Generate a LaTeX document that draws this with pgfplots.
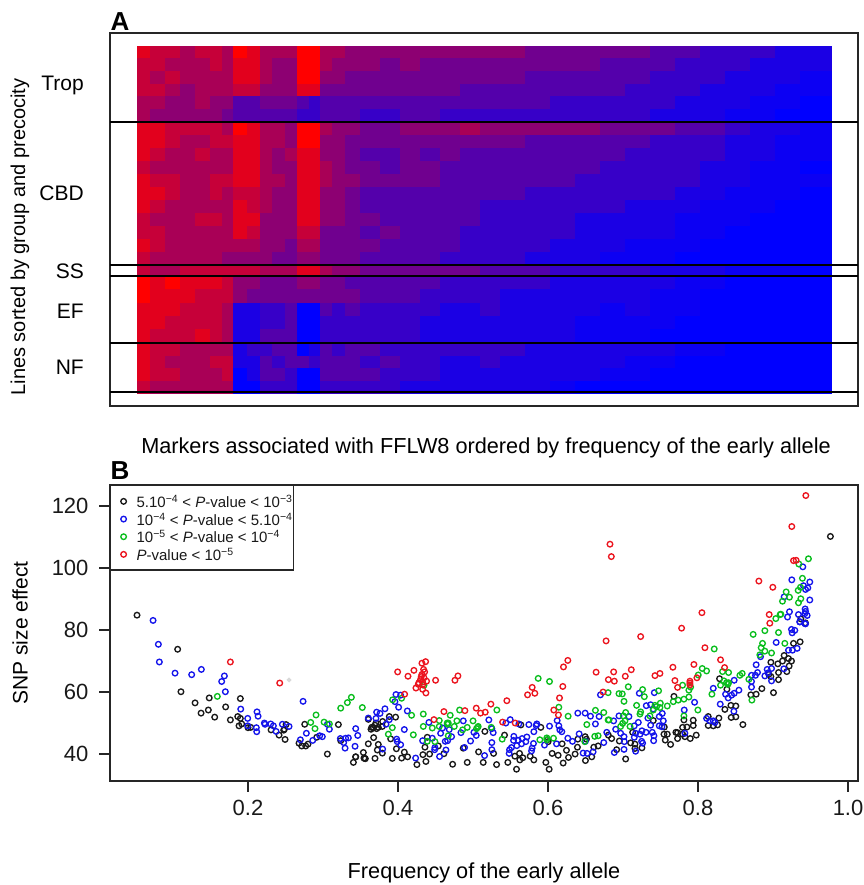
\documentclass[border=0pt]{standalone}
\usepackage{pgfplots}
\usepackage{pgfplotstable}
\usepackage{fontspec}
\setmainfont{Liberation Sans}
\pgfplotsset{compat=1.18}
\definecolor{rgreen}{RGB}{10,190,30}
\definecolor{rblue}{RGB}{20,20,235}
\definecolor{rred}{RGB}{235,20,30}
\definecolor{rblack}{RGB}{25,25,25}
\pgfplotstableread{
x T1 T2 T3 T4 T5 T6 C1 C2 C3 C4 C5 C6 C7 C8 C9 C10 C11 S E1 E2 E3 E4 E5 N1 N2 N3 N4
137 1 2 2 2 3 3 1 1 1 2 1 1 1 2 2 1 2 2 0 0 1 1 1 1 1 1 2
150 2 2 3 2 3 4 1 1 2 3 2 1 2 3 2 2 3 3 1 1 1 1 2 2 2 2 3
165 2 3 2 3 4 4 2 2 3 3 2 2 3 3 3 3 3 3 0 1 1 2 2 2 3 2 3
180 3 3 3 4 4 4 2 3 3 3 3 3 3 3 3 3 3 2 1 1 2 2 2 3 3 3 3
195 2 3 3 3 3 4 2 3 2 3 3 3 3 2 3 3 3 2 1 2 2 2 1 3 3 3 3
210 2 2 3 3 4 4 2 2 3 3 2 2 3 2 3 3 3 2 1 2 2 2 2 3 2 3 3
222 3 3 3 3 4 5 3 2 3 3 2 3 3 3 3 3 4 2 2 2 3 3 3 3 2 2 3
233 0 1 1 2 6 6 0 1 1 1 1 2 1 1 1 3 4 2 4 4 8 8 8 8 8 9 9
247 1 1 1 2 6 6 1 1 1 1 1 2 2 1 2 3 4 2 4 5 8 8 8 7 8 8 9
260 3 3 3 4 5 6 3 3 3 3 3 3 3 4 4 4 4 3 5 5 7 7 6 7 6 6 7
272 3 4 4 4 5 6 3 3 4 4 3 4 4 4 4 4 5 3 5 5 7 7 6 6 7 6 7
285 3 4 4 4 5 6 4 4 3 4 4 4 4 4 4 5 5 3 5 5 6 6 6 6 6 7 7
297 0 0 0 1 6 7 0 0 1 1 1 1 1 1 2 3 4 1 4 5 9 9 9 9 6 9 9
309 0 0 0 1 7 7 0 0 1 1 1 1 1 1 2 3 4 1 4 5 9 9 9 8 7 9 9
320 3 3 4 5 6 6 3 4 4 3 3 4 4 4 5 5 5 3 5 5 6 7 7 6 6 6 7
332 3 4 4 5 6 6 4 4 4 4 4 4 4 4 5 5 5 4 5 5 7 7 7 7 6 6 7
345 4 4 5 5 6 6 4 5 5 5 4 5 5 5 5 5 5 4 6 5 6 7 7 6 6 6 7
360 4 4 5 5 6 7 5 5 6 5 5 6 6 5 6 5 6 5 6 6 7 7 7 6 7 6 7
380 4 5 5 5 6 7 5 5 6 6 5 6 6 6 5 6 6 5 6 6 7 7 7 7 6 7 7
400 4 4 5 5 6 6 4 5 5 5 5 6 6 6 6 6 6 5 6 6 7 7 7 7 7 7 8
420 4 5 5 5 6 6 4 5 6 5 5 6 6 6 6 6 6 5 6 7 7 8 8 7 7 7 8
440 4 5 5 5 6 7 4 5 5 6 6 6 6 6 6 6 7 5 7 7 8 8 8 7 8 8 8
460 4 5 5 6 6 7 3 5 6 6 6 6 6 6 7 7 7 5 7 7 8 8 8 7 8 8 8
480 4 5 5 6 6 7 4 5 6 6 6 6 7 7 7 7 7 6 7 7 7 8 8 7 7 8 8
500 4 5 5 6 6 7 4 5 6 6 6 6 7 7 7 7 7 6 7 8 8 8 8 7 8 8 8
525 5 5 6 6 6 7 4 6 6 6 6 7 7 7 7 7 8 6 7 8 8 8 8 8 8 8 8
550 5 5 6 6 7 7 4 6 6 6 6 7 7 7 7 8 8 7 8 8 8 8 8 8 8 8 8.5
575 5 5 6 6 7 7 4 6 6 6 7 7 7 8 8 8 8 7 8 8 8 8.5 8.5 8 8 8 9
600 5 6 6 6 7 7 5 6 6 7 7 7 7 8 8 8 8.5 7 8 8 8.5 8.5 8.5 8 8 8.5 9
625 5 6 6 7 7 7 5 6 7 7 7 7 8 8 8 8.5 8.5 7 8 8 8 8.5 8.5 8 8.5 8.5 9
650 6 6 7 7 7 8 5 7 7 7 7 7 8 8 8 8.5 8.5 8 8 8.5 8.5 8.5 9 8 8.5 9 9
675 6 7 7 7 8 8 6 7 7 7 7 8 8 8.5 8.5 8.5 9 8 8.5 8.5 8.5 9 9 8.5 9 9 9
700 7 7 7 8 8 8 6 7 7 8 8 8 8.5 8.5 8.5 9 9 8 8.5 9 9 9 9 8.5 9 9 9
725 7 7 8 8 8 8.5 7 8 8 8 8 8.5 8.5 8.5 9 9 9 8.5 9 9 9 9 9 9 9 9 9
750 7 8 8 8 8.5 8.5 8 8 8 8.5 8.5 8.5 8.5 9 9 9 9 8.5 9 9 9 9 9 9 9 9 9
775 8 8 8 8.5 8.5 9 8 8.5 8.5 8.5 8.5 8.5 9 9 9 9 9 8.5 9 9 9 9 9 9 9 9 9
800 8 8 8.5 8.5 9 9 8.5 8.5 8.5 9 8.5 9 9 9 9 9 9 9 9 9 9 9 9 9 9 9 9
832 8 8 8.5 8.5 9 9 8.5 8.5 8.5 9 8.5 9 9 9 9 9 9 9 9 9 9 9 9 9 9 9 9
}\heat
\newcommand\R[3]{\addplot[mesh,shader=flat corner,line width=#3pt,point meta=explicit,forget plot] table[x=x,y expr=#2,meta=#1]{\heat};}
\newcommand\HL[1]{\addplot[black,line width=1.1pt,forget plot] coordinates {(110,#1) (858,#1)};}
\newcommand\T[3]{\node[font=\fontsize{#1}{#1}\selectfont] at #2 {#3};}
\newcommand\Lab[2]{\node[anchor=east,inner sep=0pt,font=\fontsize{21}{21}\selectfont] at (84,#1) {#2};}
\newcommand\Sup[1]{\textsuperscript{\char"2212 #1}}
\begin{document}
\begin{tikzpicture}[x=1pt,y=1pt]
\useasboundingbox (0,0) rectangle (863,885);
% panel A
\begin{axis}[at={(110pt,479pt)},anchor=south west,width=748pt,height=373pt,scale only axis,
  xmin=110,xmax=858,ymin=33,ymax=406,y dir=reverse,xtick=\empty,ytick=\empty,
  axis line style={line width=1.2pt,black!85},
  colormap={rb}{rgb255=(255,0,0) rgb255=(0,0,255)},point meta min=0,point meta max=9]
\R{T1}{52.3}{13.1}\R{T2}{65}{13.1}\R{T3}{77.7}{13.1}\R{T4}{90.3}{13.1}\R{T5}{103}{13.1}\R{T6}{115.7}{13.1}
\R{C1}{128.5}{13.4}\R{C2}{141.5}{13.4}\R{C3}{154.5}{13.4}\R{C4}{167.5}{13.4}\R{C5}{180.5}{13.4}\R{C6}{193.5}{13.4}
\R{C7}{206.5}{13.4}\R{C8}{219.5}{13.4}\R{C9}{232.5}{13.4}\R{C10}{245.5}{13.4}\R{C11}{258.5}{13.4}
\R{S}{270.5}{11.4}
\R{E1}{282.7}{13.8}\R{E2}{296.1}{13.8}\R{E3}{309.5}{13.8}\R{E4}{322.9}{13.8}\R{E5}{336.3}{13.8}
\R{N1}{349.4}{13.1}\R{N2}{362.1}{13.1}\R{N3}{374.9}{13.1}\R{N4}{387.6}{13.1}
\HL{122}\HL{265}\HL{276}\HL{343}\HL{392}
\end{axis}
% panel B
\begin{axis}[at={(110pt,104pt)},anchor=south west,width=748pt,height=296pt,scale only axis,
  xmin=0.016,xmax=1.0133,ymin=31.3,ymax=126.8,
  xtick={0.2,0.4,0.6,0.8,1.0},xticklabels={0.2,0.4,0.6,0.8,1.0},
  ytick={40,60,80,100,120},yticklabels={40,60,80,100,120},
  tick align=outside,tick pos=left,major tick length=11pt,
  tick style={line width=1.2pt,black!85},
  axis line style={line width=1.2pt,black!85},
  tick label style={font=\fontsize{22}{22}\selectfont,black!90},
  xticklabel style={yshift=-5pt},
  yticklabel style={xshift=-7pt},
  legend cell align=left,
  legend image code/.code={\path[draw=none] (-13pt,0) -- (12pt,0); \draw[#1,draw=none] plot coordinates {(0pt,0pt)};},
  legend style={at={(0,1)},anchor=north west,draw=black!85,line width=1.2pt,
    font=\fontsize{15}{15}\selectfont,row sep=0.2pt,inner xsep=0pt,inner ysep=7pt,
    nodes={inner xsep=1pt,inner ysep=2.5pt,text depth=0pt,text=black!90}},
  every axis plot/.append style={only marks,mark=o,mark size=2.8pt,mark options={line width=1.35pt,solid}}]
\addplot[rblack] coordinates {(.052,84.8)(.1062,73.8)(.1106,60.1)(.1483,58.1)(.1294,56.5)(.1471,54.2)(.1374,53.2)(.1556,51.9)(.1702,55.2)(.1898,57.9)(.1765,51.0)(.1863,52.1)(.1898,51.5)(.1916,49.7)(.1880,49.1)(.2000,48.5)(.2036,48.6)(.2307,47.8)(.2414,46.1)(.2494,44.7)(.2476,47.7)(.2485,48.0)(.2507,49.5)(.2756,49.6)(.3205,49.5)(.2680,43.5)(.2716,42.6)(.2769,42.6)(.2800,43.2)(.2916,45.4)(.3058,40.0)(.3236,44.3)(.3436,39.1)(.3405,37.3)
(.3435,39.1)(.3538,40.5)(.3604,43.3)(.3675,45.3)(.3737,43.1)(.3724,41.3)(.3791,40.3)(.3555,38.6)(.3546,38.7)(.3564,38.5)(.3693,38.6)(.3604,51.2)(.3640,48)(.3671,48.5)(.3693,49.3)(.3715,48.2)(.3737,48.6)(.3649,48.6)(.3706,50)(.3795,50.5)(.3791,48.9)(.3884,52.1)(.3968,51.9)(.3902,44.9)(.3978,41.7)(.4084,40.6)(.3924,38.6)(.4048,38.7)(.4128,39.1)(.4252,36.6)(.4372,37.6)(.4332,39.8)(.4421,40.0)(.4359,42.2)(.4390,45.4)(.4537,42.6)(.4612,40.1)(.4728,36.7)(.4923,37.3)(.4870,41.9)(.5074,40.7)(.5136,37.3)(.5158,47.3)(.5274,40.2)(.5314,36.6)(.5420,46.1)(.5464,37.3)(.5580,35.1)(.5558,39.3)(.5620,40.2)(.5624,38.1)(.5664,38.8)(.5638,49.4)(.5762,39.3)(.5811,38.1)(.5904,48.6)(.5971,37.3)(.6015,35.1)(.6055,40.2)(.6135,39.6)(.6202,37.1)(.6188,43.3)(.6246,41.2)(.6273,38.9)(.6361,40.0)(.6392,42.2)(.6397,44.8)(.6495,45.6)(.6499,37.9)(.6512,44.8)(.6583,39.1)(.6610,42.2)(.6668,42.6)(.5993,44.6)(.6002,44.0)
(.7035,38.4)(.6915,41.4)(.6848,45.0)(.6804,46.1)(.6951,44.2)(.7101,43.6)(.7159,43.2)(.7159,41.8)(.7252,42.0)(.7128,47.0)(.7403,50.8)(.7550,48.7)(.7546,46.4)(.7590,46.4)(.7563,44.5)(.7634,43.1)(.7705,47.0)(.7727,46.9)(.7727,45.0)(.7794,48.6)(.7852,48.7)(.7936,49.2)(.7936,50.9)(.7812,51.0)(.7679,58.6)(.7794,46.4)(.7825,45.6)(.7896,45.0)(.7976,46.1)(.8136,52.1)(.8136,49.2)(.8203,49.1)(.8260,49.4)(.8278,51.6)(.8358,54.4)(.8438,55.7)(.8504,55.5)(.8442,51.8)(.8504,52.0)(.8598,49.5)(.8287,64.3)(.8385,60.9)(.8704,59.1)(.8775,59.3)(.8851,61.1)(.9006,59.8)(.9073,64.0)(.9073,66.3)(.9184,66.6)(.8971,69.6)(.9064,69.1)(.9126,70.0)(.9148,71.8)(.9206,70.8)(.9246,70.0)(.9215,68.4)(.8944,65.7)(.8971,65.0)(.9273,75.7)(.9361,76.2)(.9432,82.3)(.9765,110.2)(.9370,83.6)};
\addlegendentry{5.10\Sup{4} < \textit{P}-value < 10\Sup{3}}
\addplot[rblue] coordinates {(.0734,83.1)(.0805,75.4)(.0818,69.7)(.1027,66.1)(.1249,65.6)(.1378,67.3)(.1685,65.2)(.1649,63.4)(.1698,60.1)(.1903,54.5)(.1996,51.5)(.2120,53.6)(.2134,52.2)(.1996,49.1)(.2111,48.5)(.2116,47.2)(.2218,50.0)(.2227,49.6)(.2303,49.7)(.2338,49.1)(.2374,47.3)(.2458,49.6)(.2547,48.9)(.2734,57.0)(.3058,49.6)(.3085,48.0)(.2778,46.7)(.2698,44.6)(.2863,44.4)(.2956,45.9)(.2991,45.6)(.3231,45.0)(.3276,43.7)(.3302,45.1)(.3338,45.2)(.3294,41.9)(.3427,42.5)(.3436,48.2)(.3463,46.0)
(.3715,53.5)(.3760,53.1)(.3826,54.6)(.3604,51.6)(.3706,51.5)(.3840,49.6)(.3884,51.1)(.3795,41.6)(.3973,59.2)(.4035,59.0)(.3959,56.9)(.4008,55.1)(.4124,53.9)(.4084,47.9)(.3982,44.8)(.3990,44.0)(.4035,43.0)(.4235,38.7)(.4328,44.3)(.4412,50.2)(.4457,45.1)(.4492,42.1)(.4488,41.4)(.4554,39.2)(.4568,46.7)(.4594,48.4)(.4683,47.9)(.4630,44.1)(.4661,44.3)(.4639,41.3)(.4714,45.6)(.4870,50.7)(.4839,46.9)(.4887,42.1)(.4967,44.2)(.5012,47.0)(.5043,46.0)(.5211,51.0)(.5251,48.2)(.5269,46.9)(.5251,43.7)(.5251,41.4)(.5154,39.5)(.5438,50.0)(.5496,51.1)(.5611,49.7)(.5744,49.5)(.5851,49.7)(.5842,49.2)(.6020,49.0)(.6122,50.8)(.6144,49.1)(.6157,47.8)(.6184,47.2)(.5811,47.2)(.5544,45.7)(.5540,44.4)(.5602,44.4)(.5655,45.0)(.5718,45.5)(.5704,44.0)(.5647,43.3)(.5584,42.7)(.5513,42.1)(.5487,41.4)(.5482,40.2)(.5806,43.4)(.5788,41.9)(.5780,41.0)(.5953,42.9)(.6113,43.3)(.6264,45.1)(.6326,44.1)(.6397,53.2)(.6495,53.2)(.6566,52.2)(.6681,52.1)(.6632,49.7)(.6415,46.5)(.6499,44.1)(.6743,43.7)(.6783,47.0)(.6699,59.1)(.6468,40.3)(.6521,40.2)(.6601,40.7)
(.6875,50.7)(.6946,52.3)(.7079,52.1)(.6902,48.0)(.6968,46.7)(.7013,45.6)(.7150,49.1)(.7204,50.2)(.6884,40.5)(.7013,41.5)(.7017,44.0)(.7150,45.4)(.7168,46.7)(.7226,46.4)(.7252,47.5)(.7306,47.0)(.7248,44.1)(.7261,43.5)(.7168,40.9)(.7217,59.6)(.7310,55.6)(.7368,55.9)(.7332,51.6)(.7368,49.3)(.7483,49.1)(.7519,48.8)(.7537,50.7)(.7483,52.1)(.7523,53.1)(.7417,59.8)(.7403,54.5)(.7390,47.0)(.7412,45.9)(.7408,44.3)(.7816,54.2)(.7954,56.7)(.7825,46.7)(.8114,51.5)(.8158,50.7)(.8203,50.7)(.8225,50.2)(.8296,56.1)(.8478,53.8)(.8203,61.2)(.8367,59.3)(.8402,58.1)(.8447,59.0)(.8482,59.6)(.8545,60.6)(.8482,63.8)(.8713,65.4)(.8713,63.4)(.8713,61.6)(.8766,65.4)(.8793,66.3)(.8775,68.8)(.8891,65.2)(.8922,67.3)(.8980,67.6)(.8935,66.2)(.8980,63.6)(.9144,67.5)(.8833,71.4)(.9042,76.0)(.9206,73.5)(.9259,73.5)(.9321,74.1)(.9246,80.2)(.9255,79.1)(.9290,79.9)(.9357,82.6)(.9424,82.1)
(.9397,100.4)(.9250,96.2)(.9490,95.5)(.9406,94.3)(.9464,93.6)(.9433,93.1)(.9148,90.7)(.9490,89.7)(.9428,86.8)(.9433,86.0)(.9219,85.9)(.9193,84.2)(.9339,85.0)(.9455,84.7)(.9424,85.3)(.9357,82.7)(.9433,82.0)};
\addlegendentry{10\Sup{4} < \textit{P}-value < 5.10\Sup{4}}
\addplot[rgreen] coordinates {(.1591,58.6)(.2907,52.6)(.2836,50.2)(.2893,48.2)(.3014,50.3)(.3085,49.7)(.3236,54.8)(.3325,56.6)(.3378,58.3)(.3524,55.0)(.3928,57.5)(.4048,58.0)(.4181,52.5)(.4337,52.9)(.4696,52.5)(.4821,54.2)(.5318,54.2)(.3924,48.5)(.3871,46.4)(.4204,46.2)(.4337,48.9)(.4457,48.4)(.4550,50.8)(.4550,48.9)(.4670,50)(.4660,49.6)(.4656,50)(.4750,48.9)(.4785,50.7)(.4670,45.9)(.4861,47.8)(.4923,48.6)(.5000,50.7)(.5060,48.6)(.5069,48.9)(.5047,48.2)(.5243,48.6)(.5389,44.8)(.5869,64.4)(.6020,63.4)(.6144,55.1)(.6268,52.2)(.6632,54.1)(.6743,53.4)(.6801,51.0)(.6801,59.8)(.6517,49.5)(.5891,44.6)(.5984,45.2)(.5984,44.6)(.6073,45.1)(.6490,44.0)(.6668,45.9)(.6623,45.7)(.4492,44.0)(.4390,44.1)(.4346,62.2)
(.8216,73.9)(.8735,78.6)(.8891,79.8)(.9073,79.2)(.9157,75.7)(.8860,75.7)(.8842,74.3)(.8891,73.2)(.8824,72.0)(.8980,72.6)(.7070,61.7)(.6946,59.5)(.6990,59.4)(.7013,57.0)(.7261,60.8)(.7284,58.5)(.7181,55.7)(.7235,53.6)(.7226,52.9)(.7035,53.4)(.7004,52.3)(.6813,51.0)(.7026,50.7)(.6995,49.9)(.6968,48.9)(.7093,48.9)(.7359,52.3)(.7403,54.2)(.7426,55.7)(.7448,55.3)(.7497,56.4)(.7492,55.0)(.7590,55.5)(.7670,56.9)(.7736,57.4)(.7812,57.7)(.7878,58.4)(.7878,60.6)(.7901,61.6)(.7794,62.2)(.7474,60.4)(.7998,54.2)(.7812,52.3)(.8003,65.5)(.8056,67.6)(.8114,66.8)(.8327,66.6)(.8407,66.3)(.8345,63.6)(.8380,63.0)(.8407,63.0)(.8398,62.5)(.8300,62.2)(.8185,59.3)(.8558,65.4)(.8589,66.0)(.8678,64.1)(.8718,57.4)
(.9472,103.0)(.9344,101.3)(.9392,96.7)(.9366,93.8)(.9335,92.8)(.9175,92.3)(.9219,90.6)(.9126,89.3)(.9370,90.1)(.9339,88.8)(.9095,85.0)(.9104,85.1)(.9037,83.7)};
\addlegendentry{10\Sup{5} < \textit{P}-value < 10\Sup{4}}
\addplot[rred] coordinates {(.1765,69.7)(.2423,62.9)(.3995,66.5)(.4133,65.1)(.4212,67.0)(.4319,69.3)(.4368,69.8)(.4341,67.3)(.4355,66.5)(.4319,65.7)(.4310,65.0)(.4346,64.6)(.4301,64.1)(.4279,63.0)(.4381,63.5)(.4328,63.2)(.4239,61.3)(.4328,60.9)(.4372,59.7)(.4270,62.5)(.4328,62.3)(.4088,59.3)(.4501,63.8)(.4759,63.8)(.4799,65.2)(.4612,53.7)(.4479,51.1)(.4892,54.0)(.5043,54.8)(.5100,53.2)(.5163,53.5)(.5238,56.1)(.5451,57.2)(.5394,50.3)(.5562,50.0)(.5727,59.1)(.5789,61.5)(.5824,59.6)(.6077,54.2)(.6139,52.6)(.6153,58.1)(.6197,61.8)(.6206,68.1)(.6264,70.2)(.6641,66.4)(.6805,64.0)(.6774,76.5)(.6734,60.0)
(.7235,77.9)(.7781,80.6)(.8957,82.2)(.6875,66.5)(.7110,67.2)(.7030,65.1)(.6884,63.5)(.7426,65.3)(.7492,66.0)(.7665,68.0)(.7945,68.9)(.7692,63.7)(.7727,61.5)(.7892,63.5)(.7892,62.9)(.7892,62.3)(.7985,64.6)(.8092,74.3)(.8300,70.4)(.8354,67.9)
(.9437,123.4)(.9250,113.4)(.6826,107.7)(.6844,103.7)(.9273,102.4)(.9308,102.5)(.8811,95.8)(.8997,93.8)(.8052,85.6)(.8949,85.0)};
\addlegendentry{\textit{P}-value < 10\Sup{5}}
\addplot[black!15,forget plot,mark=*,mark size=1.6pt] coordinates {(.2547,63.9)};
\end{axis}
% text
\T{26}{(120,863)}{\textbf{A}}
\T{26}{(120,414)}{\textbf{B}}
\Lab{800}{Trop}
\Lab{692}{CBD}
\Lab{614}{SS}
\Lab{574}{EF}
\Lab{518}{NF}
\T{21.7}{(486,437)}{Markers associated with FFLW8 ordered by frequency of the early allele}
\T{21.7}{(484,12)}{Frequency of the early allele}
\node[rotate=90,font=\fontsize{20}{20}\selectfont] at (20,648) {Lines sorted by group and precocity};
\node[rotate=90,font=\fontsize{21}{21}\selectfont] at (20,252) {SNP size effect};
\end{tikzpicture}
\end{document}
